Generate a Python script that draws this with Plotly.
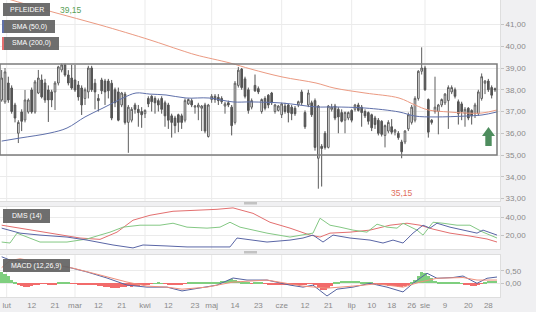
import plotly.graph_objects as go
from plotly.subplots import make_subplots

# ---------------- data ----------------
opens = [37.53,37.44,38.31,38.08,37.30,36.00,36.98,36.61,36.98,37.99,
         36.98,37.85,38.45,38.31,37.99,37.90,37.90,38.31,38.91,39.14,
         38.68,38.54,38.45,38.22,38.08,37.60,37.90,39.00,38.30,37.60,
         38.45,38.40,38.40,38.30,38.00,37.90,37.30,37.80,36.50,36.60,
         37.30,37.10,37.00,36.90,37.60,37.70,37.60,37.50,37.60,37.40,
         37.30,36.80,36.70,36.85,36.80,36.60,37.35,37.50,37.20,37.20,
         37.15,37.30,35.85,37.55,37.70,37.65,37.60,37.25,37.40,37.20,
         36.50,38.20,38.95,38.50,38.00,37.20,38.20,38.05,37.00,37.60,
         37.75,37.85,37.00,37.05,36.85,37.25,37.30,37.20,37.15,37.30,
         37.90,36.95,37.30,37.40,37.50,34.85,35.40,36.00,35.35,37.10,
         37.25,37.10,36.95,36.60,36.70,37.05,37.10,37.30,37.20,37.00,
         36.95,36.85,36.70,36.60,36.55,35.90,36.10,36.30,36.05,36.00,
         35.60,35.60,36.20,36.50,36.60,37.60,38.85,39.00,37.55,36.60,
         37.00,37.00,37.30,37.40,37.50,37.90,38.00,37.45,37.35,36.90,
         37.15,37.05,36.90,36.90,37.60,38.30,38.40,38.10,38.05]
highs = [38.91,39.00,38.60,38.20,37.40,36.60,37.10,37.99,37.60,38.10,
         38.45,38.91,38.70,38.50,38.20,38.00,38.40,39.10,39.20,39.20,
         38.90,39.14,39.14,38.40,38.20,38.10,39.10,39.10,38.50,37.80,
         38.55,38.50,38.50,38.45,38.10,38.10,37.90,37.90,37.30,37.20,
         37.40,37.30,37.20,37.10,37.70,37.75,37.70,37.60,37.70,37.50,
         37.40,36.90,36.80,36.90,36.90,37.60,37.60,37.60,37.30,37.40,
         37.30,37.40,37.35,37.80,37.80,37.80,37.70,37.45,37.50,37.30,
         38.40,39.05,39.00,38.60,38.10,37.60,38.70,38.15,37.60,37.70,
         37.80,37.90,37.35,37.30,37.40,37.40,37.35,37.30,37.25,37.50,
         38.00,37.05,38.00,37.50,37.60,37.30,35.50,36.10,37.30,37.35,
         37.35,37.20,37.10,37.00,37.00,37.10,37.35,37.40,37.30,37.10,
         37.00,36.90,36.80,36.70,36.60,36.40,36.60,36.65,36.20,36.10,
         35.70,36.15,36.95,37.30,37.70,38.90,39.95,39.10,37.60,36.65,
         38.60,37.35,37.60,37.85,38.20,38.20,38.10,37.55,37.45,37.20,
         37.20,37.10,37.40,38.00,38.75,38.45,38.50,38.20,38.10]
lows = [37.45,37.35,37.40,36.90,36.50,35.55,36.10,36.50,36.90,36.90,
        36.90,37.80,37.60,37.40,36.52,37.20,37.07,38.20,38.80,38.60,
        38.20,38.00,37.90,37.50,36.84,37.30,37.60,37.90,37.10,37.00,
        37.80,37.30,37.60,36.60,37.20,36.55,37.20,36.40,35.10,36.50,
        36.90,36.30,36.25,36.70,37.20,37.00,36.90,37.00,36.90,36.30,
        36.20,35.80,36.00,36.05,36.20,36.50,37.30,37.20,36.90,36.60,
        36.10,36.00,35.80,37.40,37.40,37.30,37.35,36.90,37.20,35.90,
        36.40,38.10,38.00,37.60,36.90,37.10,37.90,37.80,36.90,37.05,
        37.15,37.30,36.90,37.00,36.70,36.90,36.50,36.60,36.80,37.20,
        37.30,36.20,37.20,36.75,35.20,33.45,33.55,35.25,35.30,37.00,
        36.60,36.00,36.50,36.00,36.60,36.50,37.00,37.00,36.30,36.70,
        36.40,36.10,36.20,35.90,35.85,35.35,36.00,35.95,35.90,35.70,
        34.85,35.50,36.10,36.40,36.50,37.50,38.70,37.95,35.80,36.40,
        36.90,35.95,37.20,37.30,36.20,37.80,37.60,36.40,36.60,36.30,
        36.60,36.40,36.70,36.80,37.50,37.80,37.90,37.60,37.90]
closes = [38.54,38.82,37.53,37.00,36.70,36.50,36.55,37.53,37.53,36.98,
          38.36,38.54,37.67,37.53,37.53,37.53,38.31,39.05,39.14,38.68,
          38.31,38.08,37.99,37.67,37.30,38.00,39.00,38.00,37.90,37.50,
          37.95,37.90,37.95,36.70,37.40,36.60,37.85,36.50,37.20,37.10,
          37.10,36.95,36.85,37.05,37.35,37.45,37.40,37.30,37.10,36.80,
          36.60,36.50,36.35,36.50,36.50,37.50,37.55,37.30,37.25,37.30,
          37.25,36.10,37.30,37.70,37.55,37.50,37.45,37.35,37.30,36.35,
          38.30,38.90,38.10,37.70,37.05,37.50,37.95,37.90,37.55,37.15,
          37.30,37.40,37.30,37.25,37.35,37.00,36.95,36.90,36.90,37.45,
          37.40,36.30,37.85,36.85,35.35,37.25,35.30,35.35,37.25,37.20,
          36.70,36.75,36.55,36.95,36.95,36.60,37.30,37.05,36.95,36.80,
          36.55,36.25,36.40,36.00,35.95,36.35,36.50,36.05,36.15,35.80,
          35.15,36.10,36.85,37.20,37.60,38.85,39.00,38.00,36.05,36.50,
          37.20,37.30,37.55,37.80,38.10,38.10,37.70,36.90,37.00,37.10,
          36.70,36.80,37.30,37.90,38.60,38.40,38.00,37.75,38.00]

# moving averages (read at sample positions along the candle index)
sma50_x = [0, 5.5, 14.5, 19.6, 25, 30.4, 36.4, 40.3, 44.5, 49.3, 55.3, 62.2, 69.4,
           74.8, 84.1, 94.3, 99.7, 109, 119.2, 124, 130, 139, 144.1, 148.6]
sma50_y = [35.64, 35.78, 36.01, 36.24, 36.75, 37.16, 37.62, 37.85, 37.80, 37.76, 37.62,
           37.62, 37.44, 37.44, 37.39, 37.21, 37.21, 37.16, 36.98, 36.79, 36.75, 36.79,
           36.84, 36.98]
sma200_x = [0, 15.4, 29.5, 44.5, 53.5, 58.3, 68.5, 74.8, 84.1, 94.3, 99.7, 109,
            119.2, 124, 128, 134, 139, 144.1, 148.6]
sma200_y = [42.26, 41.57, 40.98, 40.29, 39.83, 39.60, 39.23, 38.95, 38.59, 38.31, 38.08,
            37.85, 37.62, 37.30, 37.07, 36.98, 36.93, 36.93, 37.07]

# DMS (14)
adx_x = [0, 23.5, 29.5, 34.6, 39.4, 44.5, 51.4, 59.5, 64.6, 69.4, 75.4, 80.5, 86.5,
         92.5, 95.5, 98.5, 104.5, 110.5, 116.5, 121.6, 125.5, 129.4, 134.5, 140.5,
         145.6, 148.6]
adx_y = [31.1, 16.7, 15.2, 23.3, 36.7, 42.2, 46.7, 47.8, 48.9, 50.5, 44.4, 34.4, 27.8,
         20.0, 17.8, 22.2, 23.3, 25.6, 31.1, 33.3, 31.1, 26.7, 22.2, 18.9, 15.6, 12.2]
pdi_x = [0, 2.5, 4.6, 7.6, 11.5, 19.6, 25.6, 29.5, 32.5, 36.4, 41.5, 47.5, 51.4, 55.6,
         61.6, 65.5, 68.5, 71.5, 75.4, 79.6, 86.5, 90.4, 93.4, 95.5, 98.5, 101.5, 105.4,
         109.6, 112.6, 115.6, 118.6, 120.4, 124.6, 126.4, 129.4, 132.4, 136.6, 140.5,
         144.4, 148.6]
pdi_y = [12.2, 11.1, 22.2, 17.8, 12.2, 12.2, 15.6, 20.0, 23.3, 28.9, 31.1, 31.1, 33.3,
         28.9, 27.8, 28.9, 34.4, 28.9, 25.6, 22.2, 17.8, 20.0, 22.2, 38.9, 31.1, 28.9,
         25.6, 23.3, 32.2, 28.9, 27.8, 33.3, 25.6, 20.0, 34.4, 33.3, 31.1, 31.1, 23.3, 16.7]
mdi_x = [0, 5.5, 11.5, 19.6, 25.6, 33.4, 39.4, 42.4, 49.6, 55.6, 62.5, 68.5, 70.6,
         75.4, 79.6, 86.5, 90.4, 93.4, 96.4, 99.4, 104.5, 110.5, 114.4, 117.4, 120.4,
         123.4, 126.4, 128.5, 130.6, 134.5, 138.4, 142.6, 144.4, 148.6]
mdi_y = [27.8, 22.2, 20.0, 17.8, 14.4, 8.9, 5.6, 8.9, 7.8, 6.7, 6.7, 6.7, 16.7, 14.4,
         12.2, 14.4, 16.7, 20.0, 12.2, 20.0, 16.7, 14.4, 11.1, 14.4, 11.1, 22.2, 31.1,
         27.8, 33.3, 28.9, 25.6, 22.2, 25.6, 20.0]

# MACD (12,26,9)
macd_x = [0, 2.5, 5.5, 11.5, 19.6, 25.6, 31.6, 37.6, 43.6, 49.6, 54.1, 59.5, 64.6,
          69.4, 73.6, 79.6, 86.5, 90.4, 93.4, 97.6, 100.6, 105.4, 110.5, 115.6, 120.4,
          123.4, 127.6, 130.6, 135.4, 138.4, 142.6, 145.6, 148.6]
macd_y = [1.05, 0.92, 0.85, 0.80, 0.65, 0.45, 0.21, -0.07, -0.15, -0.15, -0.30, -0.19,
          -0.07, 0.21, 0.13, 0.13, -0.07, -0.15, -0.07, -0.50, -0.23, -0.15, 0.00, -0.15,
          -0.34, 0.00, 0.40, 0.20, 0.23, 0.29, 0.00, 0.20, 0.25]
signal_x = [0, 2.5, 5.5, 11.5, 21.4, 29.5, 37.6, 43.6, 49.6, 54.1, 61.6, 69.4, 79.6,
            90.4, 97.6, 105.4, 112.6, 120.4, 125.5, 130.6, 138.4, 142.6, 148.6]
signal_y = [0.62, 0.90, 0.97, 0.83, 0.60, 0.33, 0.05, -0.11, -0.15, -0.23, -0.15, 0.05,
            0.13, -0.11, -0.19, -0.11, -0.02, -0.15, 0.05, 0.20, 0.23, 0.13, 0.13]
hist = [0.45, 0.38, 0.28, 0.15, 0.04,
        -0.06, -0.10, -0.13, -0.14, -0.12, -0.08,
        -0.03, -0.02, -0.01,
        -0.04, -0.05, -0.03,
        0.03, 0.06, 0.05, 0.02,
        -0.01, -0.02,
        -0.05, -0.06, -0.05, -0.04, -0.06, -0.08,
        -0.10, -0.12, -0.13, -0.15, -0.18, -0.20, -0.17, -0.15, -0.14, -0.12, -0.13, -0.12,
        -0.10, -0.08, -0.06, -0.04,
        -0.02, 0.01, 0.02, 0.01, -0.01,
        -0.03, -0.05, -0.06, -0.05, -0.03, -0.01,
        0.02, 0.04, 0.05, 0.05, 0.04, 0.03, 0.02, 0.03,
        0.05, 0.06, 0.08, 0.10, 0.15, 0.18, 0.12,
        0.08, 0.06, 0.04, 0.02, -0.02, 0.03, 0.05, 0.02, -0.02,
        -0.04, -0.05, -0.06, -0.05, -0.04, -0.05, -0.06, -0.05, -0.04, -0.03, -0.04, -0.05,
        -0.02, -0.01, -0.03,
        -0.15, -0.25, -0.27, -0.20, -0.10,
        0.04, 0.06, 0.08, 0.09, 0.10, 0.10, 0.09, 0.08, 0.06, 0.05, 0.03, 0.02,
        -0.01, -0.03,
        -0.05, -0.07, -0.09, -0.10, -0.12, -0.15, -0.13, -0.10, -0.05,
        0.05, 0.15, 0.30, 0.45, 0.40, 0.30, 0.20, 0.10,
        0.06, 0.05, 0.05, 0.04, 0.05, 0.04, 0.03, 0.01,
        -0.04, -0.08, -0.10, -0.09, -0.06, -0.02,
        0.06, 0.10, 0.10, 0.08]

channel_low, channel_high, channel_end = 35.00, 39.18, 148.6

tick_pos = [1.5, 9, 16, 22, 29, 36, 43, 50, 58, 63, 70, 77, 84, 91, 98, 105, 111, 117,
            123, 127, 133, 140, 146]
tick_text = ["lut", "12", "21", "mar", "12", "21", "kwi", "12", "23", "maj", "14", "23",
             "cze", "12", "21", "lip", "10", "18", "26", "sie", "9", "20", "28"]
month_pos = [1.5, 22, 43, 63, 84, 105, 127]

last_label = "39,15"
low_label = "35,15"

# ---------------- figure ----------------
N = len(opens)
xs = list(range(N))
W, H = 536, 312
ML, MR, MT, MB = 0, 36, 0, 14
PW, PH = W - ML - MR, H - MT - MB


def fx(p):
    return p / PW


def fy(p):
    return 1 - p / PH


fig = make_subplots(rows=3, cols=1, shared_xaxes=True)

fig.add_trace(go.Candlestick(
    x=xs, open=opens, high=highs, low=lows, close=closes,
    increasing=dict(fillcolor="#ffffff", line=dict(color="#5e5e5e", width=1)),
    decreasing=dict(fillcolor="#555555", line=dict(color="#555555", width=1)),
    whiskerwidth=0, hoverinfo="skip"), row=1, col=1)
fig.add_trace(go.Scatter(x=sma50_x, y=sma50_y, mode="lines",
                         line=dict(color="#5f70aa", width=1, shape="spline")), row=1, col=1)
fig.add_trace(go.Scatter(x=sma200_x, y=sma200_y, mode="lines",
                         line=dict(color="#eb9a82", width=1, shape="spline")), row=1, col=1)

fig.add_trace(go.Scatter(x=adx_x, y=adx_y, mode="lines",
                         line=dict(color="#e36f6f", width=1)), row=2, col=1)
fig.add_trace(go.Scatter(x=pdi_x, y=pdi_y, mode="lines",
                         line=dict(color="#84c884", width=1)), row=2, col=1)
fig.add_trace(go.Scatter(x=mdi_x, y=mdi_y, mode="lines",
                         line=dict(color="#5a66a6", width=1)), row=2, col=1)

fig.add_trace(go.Bar(x=xs, y=hist, width=0.95,
                     marker=dict(color=["#7fcf7f" if v >= 0 else "#f26b6b" for v in hist],
                                 line=dict(width=0))), row=3, col=1)
fig.add_trace(go.Scatter(x=macd_x, y=macd_y, mode="lines",
                         line=dict(color="#5564a2", width=1)), row=3, col=1)
fig.add_trace(go.Scatter(x=signal_x, y=signal_y, mode="lines",
                         line=dict(color="#f0907c", width=1)), row=3, col=1)

grid = "#ebebeb"
tfont = dict(family="Liberation Sans, Arial", size=8, color="#8a8a8a")
xr = [-0.5, N + 0.5]
for ax in ["xaxis", "xaxis2", "xaxis3"]:
    fig.layout[ax].update(range=xr, showgrid=False, zeroline=False, showline=True,
                          linecolor="#dedede", mirror=True, rangeslider=dict(visible=False))
fig.layout.xaxis.update(showticklabels=False)
fig.layout.xaxis2.update(showticklabels=False)
fig.layout.xaxis3.update(tickmode="array", tickvals=tick_pos, ticktext=tick_text,
                         tickfont=tfont, ticks="", showticklabels=True)

common_y = dict(side="right", ticks="outside", ticklen=3, tickcolor="#c4c4c4",
                gridcolor=grid, zeroline=False, tickformat=".2f", tickfont=tfont,
                showline=True, linecolor="#dedede", mirror=True, fixedrange=True)
fig.layout.yaxis.update(domain=[fy(201), 1], range=[39 - 133 / 21.75, 39 + 68 / 21.75],
                        tickvals=list(range(33, 42)), **common_y)
fig.layout.yaxis2.update(domain=[fy(249), fy(207)], range=[4.4, 51.5],
                         tickvals=[20, 40], **common_y)
fig.layout.yaxis3.update(domain=[fy(297), fy(255)], range=[-0.54, 1.12],
                         tickvals=[0, 0.5], **common_y)

for m in month_pos:
    fig.add_vline(x=m, line=dict(color=grid, width=1), layer="below")

fig.add_shape(type="rect", xref="x", yref="y", x0=-0.5, x1=channel_end,
              y0=channel_low, y1=channel_high, line=dict(color="#7c7c7c", width=1.5),
              fillcolor="rgba(0,0,0,0)")

box = "rgba(98,98,98,0.92)"


def label(x0, y0, x1, y1, text, strip=None):
    fig.add_shape(type="rect", xref="paper", yref="paper", x0=fx(x0), x1=fx(x1),
                  y0=fy(y1), y1=fy(y0), fillcolor=box, line=dict(width=0), layer="above")
    if strip:
        fig.add_shape(type="rect", xref="paper", yref="paper", x0=fx(x0 - 1), x1=fx(x0 + 1),
                      y0=fy(y1), y1=fy(y0), fillcolor=strip, line=dict(width=0), layer="above")
    fig.add_annotation(xref="paper", yref="paper", x=fx((x0 + x1) / 2), y=fy((y0 + y1) / 2),
                       text=text, showarrow=False, xanchor="center", yanchor="middle",
                       font=dict(family="Liberation Sans, Arial", size=7, color="white"))


label(3, 3, 50, 16, "PFLEIDER")
label(3, 20, 55, 33, "SMA (50,0)", strip="#5f70aa")
label(3, 37, 59, 50, "SMA (200,0)", strip="#e36f6f")
label(3, 209, 50, 223, "DMS (14)")
label(3, 259, 70, 272, "MACD (12,26,9)")

fig.add_annotation(xref="paper", yref="paper", x=fx(58), y=fy(10), text=last_label,
                   showarrow=False, xanchor="left", yanchor="middle",
                   font=dict(family="Liberation Sans, Arial", size=8.5, color="#57a057"))
fig.add_annotation(xref="paper", yref="paper", x=fx(402), y=fy(193), text=low_label,
                   showarrow=False, xanchor="center", yanchor="middle",
                   font=dict(family="Liberation Sans, Arial", size=8.5, color="#e0705e"))

# green up arrow marker
ax0, ax1, ay0, ay1 = 482, 495, 127, 146
amid = (ax0 + ax1) / 2
path = (f"M {fx(amid)} {fy(ay0)} L {fx(ax1)} {fy(ay0 + 9)} L {fx(amid + 3.2)} {fy(ay0 + 9)} "
        f"L {fx(amid + 3.2)} {fy(ay1)} L {fx(amid - 3.2)} {fy(ay1)} L {fx(amid - 3.2)} {fy(ay0 + 9)} "
        f"L {fx(ax0)} {fy(ay0 + 9)} Z")
fig.add_shape(type="path", xref="paper", yref="paper", path=path,
              fillcolor="#4e8d5e", line=dict(width=0), layer="above")

# panel separator grips
for gy in (202, 251):
    fig.add_shape(type="rect", xref="paper", yref="paper", x0=fx(244), x1=fx(257),
                  y0=fy(gy + 2.5), y1=fy(gy), fillcolor="#c2c2c2", line=dict(width=0))

fig.update_layout(width=W, height=H, margin=dict(l=ML, r=MR, t=MT, b=MB),
                  paper_bgcolor="#f0f0f2", plot_bgcolor="#ffffff", showlegend=False,
                  separators=", ", bargap=0,
                  font=dict(family="Liberation Sans, Arial", size=8, color="#8a8a8a"))

fig.write_html("out.html")
